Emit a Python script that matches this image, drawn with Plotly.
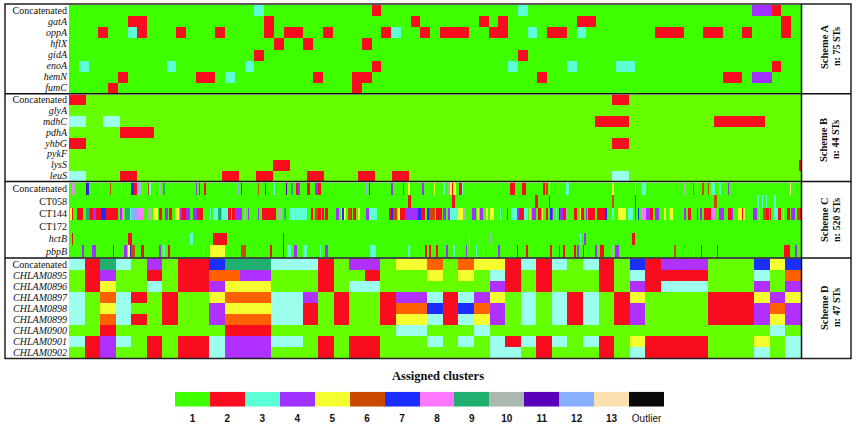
import plotly.graph_objects as go

# ---------- labels ----------
A_labels = ["Concatenated", "<i>gatA</i>", "<i>oppA</i>", "<i>hflX</i>", "<i>gidA</i>", "<i>enoA</i>", "<i>hemN</i>", "<i>fumC</i>"]
B_labels = ["Concatenated", "<i>glyA</i>", "<i>mdhC</i>", "<i>pdhA</i>", "<i>yhbG</i>", "<i>pykF</i>", "<i>lysS</i>", "<i>leuS</i>"]
C_labels = ["Concatenated", "CT058", "CT144", "CT172", "<i>hctB</i>", "<i>pbpB</i>"]
D_labels = ["Concatenated"] + ["<i>CHLAM%04d</i>" % n for n in range(895, 903)]
legend_labels = ["<b>%d</b>" % i for i in range(1, 14)] + ["Outlier"]

# ---------- Scheme A: 75 STs, (first ST, number of STs, cluster); the rest is cluster 1 ----------
A_concat = [(19, 1, 3), (31, 1, 2), (46, 1, 3), (70, 2, 4), (72, 1, 2)]
A_gatA = [(6, 2, 2), (20, 1, 2), (35, 1, 2), (42, 1, 2), (44, 1, 2), (52, 2, 2), (73, 1, 2)]
A_oppA = [(3, 1, 2), (6, 1, 3), (7, 1, 2), (11, 1, 2), (15, 1, 2), (20, 1, 2), (22, 2, 2), (26, 1, 2), (32, 1, 2),
          (33, 1, 3), (36, 1, 2), (38, 3, 2), (43, 2, 2), (47, 1, 3), (49, 2, 2), (52, 1, 3), (60, 3, 2), (65, 2, 2),
          (69, 1, 2), (73, 1, 2)]
A_hflX = [(21, 1, 2), (24, 1, 2), (30, 1, 2)]
A_gidA = [(19, 1, 2), (46, 1, 2)]
A_enoA = [(1, 1, 3), (10, 1, 3), (18, 1, 3), (31, 1, 2), (45, 1, 3), (51, 1, 3), (56, 2, 3), (72, 1, 2)]
A_hemN = [(5, 1, 2), (13, 2, 2), (16, 1, 3), (25, 1, 2), (29, 2, 2), (48, 1, 2), (67, 2, 2), (70, 2, 4)]
A_fumC = [(4, 1, 2), (29, 1, 2)]

# ---------- Scheme B: 44 STs ----------
B_concat = [(0, 1, 2), (32, 1, 2)]
B_glyA = []
B_mdhC = [(0, 1, 3), (2, 1, 3), (31, 2, 2), (38, 3, 2)]
B_pdhA = [(3, 2, 2)]
B_yhbG = [(0, 1, 2), (32, 1, 2)]
B_pykF = []
B_lysS = [(12, 1, 2), (43, 1, 2)]
B_leuS = [(0, 1, 3), (3, 1, 2), (9, 1, 2), (11, 1, 2), (14, 1, 2), (17, 1, 2), (19, 1, 2), (32, 1, 3)]

# ---------- Scheme C: 520 STs ----------
C_concat = [(2, 1, 8), (3, 1, 10), (12, 1, 11), (13, 1, 7), (29, 1, 6), (37, 1, 3), (41, 1, 8), (44, 2, 7), (46, 2, 2),
            (49, 1, 12), (50, 1, 10), (51, 1, 8), (56, 1, 6), (57, 1, 3), (64, 1, 10), (67, 1, 9), (90, 1, 4), (92, 1, 2),
            (96, 1, 2), (119, 2, 12), (122, 1, 7), (134, 1, 6), (139, 1, 2), (145, 1, 3), (149, 1, 10), (154, 1, 11),
            (158, 1, 9), (161, 2, 2), (163, 1, 4), (169, 2, 2), (175, 2, 4), (177, 2, 2), (210, 2, 12), (213, 1, 11),
            (229, 1, 4), (237, 1, 4), (241, 1, 5), (251, 1, 4), (259, 1, 5), (266, 1, 3), (269, 1, 10), (271, 1, 5),
            (272, 1, 2), (273, 2, 5), (277, 2, 2), (279, 1, 3), (313, 4, 2), (322, 3, 2), (337, 1, 2), (339, 1, 6),
            (341, 1, 5), (353, 2, 3), (386, 1, 5), (402, 1, 5), (406, 4, 3), (437, 1, 10), (443, 1, 9), (446, 1, 5),
            (450, 1, 6), (454, 1, 6), (456, 3, 3), (462, 1, 3), (468, 1, 4), (512, 1, 13), (514, 1, 10)]
C_CT058 = [(241, 2, 2), (272, 2, 2), (331, 2, 2), (341, 1, 2), (386, 1, 6), (402, 1, 2), (458, 2, 6),
           (489, 1, 3), (492, 1, 3), (495, 1, 3), (501, 1, 3)]
C_CT144 = [(1, 1, 5), (2, 1, 2), (6, 2, 2), (8, 2, 2), (12, 2, 9), (14, 1, 4), (15, 2, 2), (17, 2, 4), (19, 4, 2),
           (23, 3, 7), (26, 4, 2), (30, 5, 2), (36, 2, 4), (38, 1, 8), (40, 3, 9), (43, 1, 3), (44, 4, 12), (49, 4, 8),
           (56, 3, 10), (60, 1, 5), (61, 2, 5), (64, 2, 2), (68, 2, 4), (71, 2, 2), (75, 3, 5), (79, 1, 4), (80, 3, 2),
           (83, 3, 4), (88, 3, 4), (91, 4, 2), (95, 1, 10), (100, 1, 3), (102, 4, 3), (106, 2, 9), (109, 4, 3),
           (113, 2, 2), (116, 2, 2), (118, 5, 4), (124, 2, 10), (127, 1, 4), (134, 1, 4), (137, 4, 2), (141, 6, 2),
           (148, 3, 10), (153, 1, 9), (156, 3, 3), (159, 1, 5), (160, 2, 3), (162, 7, 3), (172, 1, 2),
           (175, 2, 6), (177, 2, 2), (180, 1, 2), (182, 2, 2), (190, 2, 4), (193, 1, 5), (194, 1, 7), (195, 2, 5),
           (198, 2, 6), (200, 1, 2), (202, 2, 2), (205, 2, 5), (211, 2, 4), (213, 6, 3), (227, 2, 2), (229, 1, 7),
           (230, 3, 6), (234, 1, 5), (235, 4, 2), (239, 9, 4), (248, 2, 7), (250, 3, 2), (254, 2, 7), (256, 4, 6),
           (261, 4, 2), (266, 2, 4), (269, 2, 4), (271, 5, 3), (276, 4, 5), (280, 2, 10), (286, 3, 4), (290, 1, 5),
           (292, 2, 4), (296, 2, 5), (299, 3, 5), (304, 1, 3), (306, 1, 3), (311, 1, 6), (314, 4, 3), (318, 2, 4),
           (320, 3, 2), (323, 3, 3), (327, 1, 5), (329, 3, 4), (333, 2, 2), (336, 1, 5), (339, 1, 2), (342, 1, 7),
           (343, 1, 4), (346, 1, 3), (348, 1, 7), (349, 2, 4), (351, 2, 2), (353, 1, 10), (359, 2, 2), (363, 1, 5),
           (364, 2, 2), (367, 1, 4), (369, 5, 2), (375, 6, 2), (381, 1, 7), (386, 1, 3), (390, 6, 5), (397, 4, 3),
           (402, 1, 4), (404, 1, 7), (406, 4, 8), (410, 3, 4), (413, 2, 2), (416, 3, 4), (423, 1, 5), (426, 3, 5),
           (437, 1, 4), (440, 2, 2), (446, 1, 6), (448, 2, 4), (451, 5, 2), (456, 3, 8), (462, 3, 4), (468, 2, 2),
           (470, 2, 4), (475, 3, 5), (478, 1, 2), (479, 1, 5), (486, 3, 4), (490, 1, 5), (493, 2, 6), (495, 2, 2),
           (498, 1, 2), (501, 3, 3), (504, 2, 2), (507, 1, 5), (510, 2, 2), (513, 3, 4), (517, 2, 6), (519, 1, 2)]
C_CT172 = []
C_hctB = [(2, 1, 2), (42, 3, 2), (86, 2, 3), (102, 10, 2), (152, 1, 2), (284, 1, 3), (299, 1, 10), (363, 1, 3),
          (366, 1, 4), (400, 2, 2)]
C_pbpB = [(9, 2, 4), (16, 3, 4), (31, 1, 2), (39, 2, 4), (42, 1, 5), (43, 1, 7), (44, 3, 6), (51, 2, 2), (64, 1, 4),
          (67, 1, 3), (70, 2, 2), (95, 1, 3), (100, 11, 5), (122, 4, 6), (143, 1, 2), (152, 1, 7), (155, 3, 3),
          (160, 2, 4), (166, 3, 3), (178, 1, 3), (182, 2, 4), (214, 4, 3), (241, 1, 3), (253, 1, 2), (256, 1, 2),
          (261, 1, 2), (268, 1, 4), (273, 1, 3), (282, 1, 4), (289, 1, 3), (294, 1, 3), (305, 1, 4), (318, 1, 2),
          (325, 1, 2), (342, 1, 2), (348, 1, 4), (351, 1, 2), (359, 1, 2), (361, 1, 4), (365, 1, 2), (374, 1, 4),
          (377, 3, 2), (386, 1, 10), (388, 3, 4), (430, 1, 6), (443, 1, 3), (449, 1, 2), (460, 1, 2), (508, 4, 2),
          (516, 1, 4)]

# ---------- Scheme D: 47 STs, every ST listed ----------
D_concat = [3,2,9,3,1,4,1,2,2,7,9,9,9,3,3,3,2,1,4,4,1,5,5,6,1,6,5,5,2,3,2,3,1,3,2,1,7,2,4,4,4,1,1,1,7,5,7]
D_0895 = [1,2,4,1,1,2,1,2,2,6,6,4,4,1,1,1,2,1,1,2,1,1,1,5,1,5,1,3,2,1,2,1,1,1,2,1,3,2,2,2,2,1,1,1,3,1,6]
D_0896 = [1,2,5,1,1,3,1,2,2,4,5,5,5,1,1,1,2,1,3,3,1,1,1,1,1,1,1,4,2,1,2,1,1,1,2,1,4,2,3,3,3,1,1,1,4,1,4]
D_0897 = [3,1,6,3,2,1,2,1,1,5,6,6,6,3,3,4,1,2,1,1,2,4,4,3,2,3,4,5,1,3,1,3,2,3,1,2,5,1,1,1,1,2,2,2,5,4,5]
D_0898 = [3,1,5,3,1,1,2,1,1,4,5,5,5,3,3,2,1,2,1,1,2,6,6,7,2,7,6,4,1,3,1,3,2,3,1,2,4,1,1,1,1,2,2,2,4,6,4]
D_0899 = [3,1,6,3,2,1,2,1,1,4,6,6,6,3,3,2,1,2,1,1,2,5,5,3,2,3,5,4,1,3,1,3,2,3,1,2,4,1,1,1,1,2,2,2,4,5,4]
D_0900 = [1,1,2,1,1,1,1,1,1,1,2,2,2,1,1,1,1,1,1,1,1,3,3,1,1,1,3,1,1,1,1,1,1,1,1,1,1,1,1,1,1,1,1,1,1,3,1]
D_0901 = [3,2,4,3,1,2,1,2,2,3,4,4,4,3,3,1,2,1,2,2,1,1,1,3,1,3,1,3,2,3,2,3,1,3,2,1,5,2,2,2,2,1,1,1,5,1,3]
D_0902 = [1,2,4,1,1,2,1,2,2,3,4,4,4,1,1,1,2,1,2,2,1,1,1,1,1,1,1,3,3,1,2,1,1,1,2,1,3,2,2,2,2,1,1,1,3,1,3]

legend_values = list(range(1, 15))

# ---------- styles ----------
BASE = ["#3dff00", "#f80c1e", "#5cffd5", "#a030ff", "#f5ff30", "#cc4a00", "#1a2fff",
        "#ff78ff", "#1fb070", "#aab8b0", "#5a00bb", "#88b0ff", "#fbe0b0", "#0a0a0a"]
SOFT = list(BASE)
SOFT[0], SOFT[2], SOFT[3], SOFT[5] = "#66ff00", "#9cffee", "#b030ff", "#ff6000"
SERIF = "Liberation Serif, Times New Roman, serif"
W, H = 856, 425


def fx(px):
    return px / W


def fy(py):
    return 1 - py / H


def scale(colors):
    n = len(colors)
    out = []
    for i, c in enumerate(colors):
        out += [[i / n, c], [(i + 1) / n, c]]
    return out


def expand(runs, n):
    row = [1] * n
    for start, length, cluster in runs:
        for k in range(start, min(start + length, n)):
            row[k] = cluster
    return row


A_z = [expand(r, 75) for r in (A_concat, A_gatA, A_oppA, A_hflX, A_gidA, A_enoA, A_hemN, A_fumC)]
B_z = [expand(r, 44) for r in (B_concat, B_glyA, B_mdhC, B_pdhA, B_yhbG, B_pykF, B_lysS, B_leuS)]
C_z = [expand(r, 520) for r in (C_concat, C_CT058, C_CT144, C_CT172, C_hctB, C_pbpB)]
D_z = [D_concat, D_0895, D_0896, D_0897, D_0898, D_0899, D_0900, D_0901, D_0902]

panels = [
    (A_z, A_labels, BASE, (69, 801), (5, 93.5), 74.5, 10),
    (B_z, B_labels, SOFT, (69, 801), (94.5, 181), 42.64, 10),
    (C_z, C_labels, BASE, (69, 801), (182.5, 257.5), 519.5, 10),
    (D_z, D_labels, SOFT, (69, 801), (258.5, 358), 46.5, 10),
]

fig = go.Figure()
layout = {}
for i, (z, labels, colors, xr, yr, xmax, fs) in enumerate(panels, start=1):
    fig.add_trace(go.Heatmap(z=z, colorscale=scale(colors), zmin=0.5, zmax=14.5, showscale=False,
                             hoverinfo="skip", xaxis="x%d" % i, yaxis="y%d" % i))
    layout["xaxis%d" % i] = dict(domain=[fx(xr[0]), fx(xr[1])], range=[-0.5, xmax], visible=False,
                                 anchor="y%d" % i, fixedrange=True)
    layout["yaxis%d" % i] = dict(domain=[fy(yr[1]), fy(yr[0])], range=[len(z) - 0.5, -0.5], anchor="x%d" % i,
                                 tickmode="array", tickvals=list(range(len(z))), ticktext=labels,
                                 ticks="", showline=False, showgrid=False, zeroline=False, ticklabelstandoff=1,
                                 tickfont=dict(family=SERIF, size=fs, color="#111111"), fixedrange=True)

# cluster key
fig.add_trace(go.Heatmap(z=[legend_values], colorscale=scale(BASE), zmin=0.5, zmax=14.5, showscale=False,
                         hoverinfo="skip", xaxis="x5", yaxis="y5"))
layout["xaxis5"] = dict(domain=[fx(175), fx(664)], range=[-0.5, 13.5], anchor="y5", tickmode="array",
                        tickvals=list(range(14)), ticktext=legend_labels, ticks="", showline=False,
                        showgrid=False, zeroline=False, ticklabelstandoff=4,
                        tickfont=dict(family="Liberation Sans, Arial, sans-serif", size=10, color="#111111"),
                        fixedrange=True)
layout["yaxis5"] = dict(domain=[fy(406.7), fy(391.7)], range=[-0.5, 0.5], visible=False, anchor="x5", fixedrange=True)

# frames
frames = [dict(type="rect", xref="paper", yref="paper", x0=fx(5), x1=fx(851), y0=fy(358.5), y1=fy(4),
               line=dict(color="#222222", width=1.5))]
for py in (93.7, 181.5, 258):
    frames.append(dict(type="line", xref="paper", yref="paper", x0=fx(5), x1=fx(851), y0=fy(py), y1=fy(py),
                       line=dict(color="#111111", width=1.5)))
frames.append(dict(type="line", xref="paper", yref="paper", x0=fx(801.5), x1=fx(801.5), y0=fy(358.5), y1=fy(4),
                   line=dict(color="#111111", width=1.5)))

notes = []
for name, n_txt, cy in (("Scheme A", "n: 75 STs", 47), ("Scheme B", "n: 44 STs", 140),
                        ("Scheme C", "n: 520 STs", 220), ("Scheme D", "n: 47 STs", 308)):
    notes.append(dict(text="<b>%s</b>" % name, x=fx(824), y=fy(cy), xref="paper", yref="paper", textangle=-90,
                      xanchor="center", yanchor="middle", showarrow=False,
                      font=dict(family=SERIF, size=10.5, color="#111111")))
    notes.append(dict(text="<b>%s</b>" % n_txt, x=fx(836), y=fy(cy), xref="paper", yref="paper", textangle=-90,
                      xanchor="center", yanchor="middle", showarrow=False,
                      font=dict(family=SERIF, size=10, color="#111111")))
notes.append(dict(text="<b>Assigned clusters</b>", x=fx(438), y=fy(376), xref="paper", yref="paper",
                  xanchor="center", yanchor="middle", showarrow=False,
                  font=dict(family=SERIF, size=12.5, color="#111111")))

fig.update_layout(width=W, height=H, margin=dict(l=0, r=0, t=0, b=0), paper_bgcolor="white", plot_bgcolor="white",
                  shapes=frames, annotations=notes, showlegend=False, **layout)
fig.write_html("out.html", config=dict(displayModeBar=False), post_script="document.body.style.margin='0';")
